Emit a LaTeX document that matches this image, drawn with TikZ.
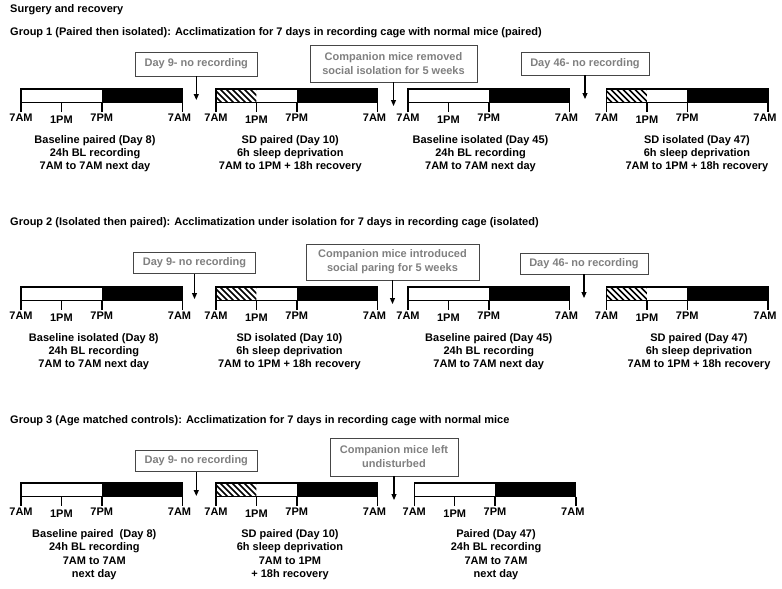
\documentclass[tikz,border=0pt]{standalone}
\usepackage{fontspec}
\setmainfont{Liberation Sans}
\usetikzlibrary{arrows.meta}
\definecolor{calltext}{RGB}{128,128,128}
\definecolor{callframe}{RGB}{70,70,70}
\tikzset{
  every node/.style={font=\fontsize{11}{13}\selectfont\bfseries, inner sep=0pt},
  titletext/.style={anchor=west},
  callout/.style={draw=callframe, line width=0.9pt, text=calltext, align=center,
    font=\fontsize{11}{14}\selectfont\bfseries},
  desc/.style={align=center, anchor=north},
  desclong/.style={align=center, anchor=north, font=\fontsize{11}{13.5}\selectfont\bfseries},
  barframe/.style={line width=1.2pt},
  axisline/.style={line width=1.8pt},
  tickline/.style={line width=1.5pt},
  pointer/.style={line width=1.1pt, -{Triangle[length=6pt,width=5pt]}},
  hatchline/.style={line width=1.6pt},
}
% #1 name, #2 x left, #3 y top, #4 1 = sleep deprivation hatch
\newcommand{\timeline}[4]{%
  \fill[white] (#2,#3) rectangle ({#2+161.5},{#3+13.5});
  \fill[black] ({#2+80.75},#3) rectangle ({#2+161.5},{#3+13.5});
  \ifnum#4=1
    \begin{scope}
      \clip (#2,#3) rectangle ({#2+40.4},{#3+13.5});
      \foreach \k in {-14,-8,...,40} \draw[hatchline] ({#2+\k},#3) -- ++(13.5,13.5);
    \end{scope}
  \fi
  \draw[barframe] (#2,#3) rectangle ({#2+161.5},{#3+13.5});
  \draw[axisline] (#2,{#3+13.5}) -- ({#2+161.5},{#3+13.5});
  \foreach \dx in {0,40.4,80.75,161.5} \draw[tickline] ({#2+\dx},{#3+13.5}) -- ({#2+\dx},{#3+22.5});
  \node (#1-a) at (#2,{#3+29}) {7AM};
  \node (#1-b) at ({#2+40.4},{#3+31}) {1PM};
  \node (#1-c) at ({#2+80.75},{#3+29}) {7PM};
  \node (#1-d) at ({#2+158.5},{#3+29}) {7AM};
}
\begin{document}
\begin{tikzpicture}[x=1pt,y=-1pt]
\useasboundingbox[fill=white] (0,0) rectangle (782,589);

% titles
\node[titletext] (surg) at (10,10) {Surgery and recovery};
\node[titletext] (t1) at (10,33) {Group 1 (Paired then isolated): Acclimatization for 7 days in recording cage with normal mice (paired)};
\node[titletext] (t2) at (10,223) {Group 2 (Isolated then paired): Acclimatization under isolation for 7 days in recording cage (isolated)};
\node[titletext] (t3) at (10,421) {Group 3 (Age matched controls): Acclimatization for 7 days in recording cage with normal mice};

% ---------- Group 1 ----------
\timeline{g1a}{21}{89}{0}
\timeline{g1b}{216}{89}{1}
\timeline{g1c}{408}{89}{0}
\timeline{g1d}{606.5}{89}{1}

\node[callout, minimum width=122pt, minimum height=24pt] (g1d9) at (196.3,64) {Day 9- no recording};
\node[callout, minimum width=167pt, minimum height=37pt] (g1co) at (393.5,63.5) {Companion mice removed\\social isolation for 5 weeks};
\node[callout, minimum width=128pt, minimum height=23pt] (g1d46) at (585,63.5) {Day 46- no recording};
\coordinate (g1d9t) at (196.3,100);
\coordinate (g1cot) at (393.5,106);
\coordinate (g1d46t) at (585,99);
\draw[pointer] (g1d9) -- (g1d9t);
\draw[pointer] (g1co) -- (g1cot);
\draw[pointer] (g1d46) -- (g1d46t);

\node[desc] (g1ta) at (95,135) {Baseline paired (Day 8)\\24h BL recording\\7AM to 7AM next day};
\node[desc] (g1tb) at (290.3,135) {SD paired (Day 10)\\6h sleep deprivation\\7AM to 1PM + 18h recovery};
\node[desc] (g1tc) at (480.5,135) {Baseline isolated (Day 45)\\24h BL recording\\7AM to 7AM next day};
\node[desc] (g1td) at (697,135) {SD isolated (Day 47)\\6h sleep deprivation\\7AM to 1PM + 18h recovery};

% ---------- Group 2 ----------
\timeline{g2a}{21}{287}{0}
\timeline{g2b}{216}{287}{1}
\timeline{g2c}{408}{287}{0}
\timeline{g2d}{606.5}{287}{1}

\node[callout, minimum width=122pt, minimum height=21pt] (g2d9) at (194.5,263) {Day 9- no recording};
\node[callout, minimum width=173pt, minimum height=36pt] (g2co) at (392.5,262) {Companion mice introduced\\social paring for 5 weeks};
\node[callout, minimum width=128pt, minimum height=21pt] (g2d46) at (584,263.5) {Day 46- no recording};
\coordinate (g2d9t) at (194.5,299);
\coordinate (g2cot) at (392.5,304);
\coordinate (g2d46t) at (584,298);
\draw[pointer] (g2d9) -- (g2d9t);
\draw[pointer] (g2co) -- (g2cot);
\draw[pointer] (g2d46) -- (g2d46t);

\node[desc] (g2ta) at (93.8,333) {Baseline isolated (Day 8)\\24h BL recording\\7AM to 7AM next day};
\node[desc] (g2tb) at (289.5,333) {SD isolated (Day 10)\\6h sleep deprivation\\7AM to 1PM + 18h recovery};
\node[desc] (g2tc) at (488.8,333) {Baseline paired (Day 45)\\24h BL recording\\7AM to 7AM next day};
\node[desc] (g2td) at (699,333) {SD paired (Day 47)\\6h sleep deprivation\\7AM to 1PM + 18h recovery};

% ---------- Group 3 ----------
\timeline{g3a}{21}{483}{0}
\timeline{g3b}{216}{483}{1}
\timeline{g3c}{414.3}{483}{0}

\node[callout, minimum width=122pt, minimum height=21pt] (g3d9) at (196.3,461) {Day 9- no recording};
\node[callout, minimum width=128pt, minimum height=38pt] (g3co) at (394,457) {Companion mice left\\undisturbed};
\coordinate (g3d9t) at (196.3,496);
\coordinate (g3cot) at (394,500);
\draw[pointer] (g3d9) -- (g3d9t);
\draw[pointer] (g3co) -- (g3cot);

\node[desclong] (g3ta) at (94.3,529) {Baseline paired\ \ (Day 8)\\24h BL recording\\7AM to 7AM\\next day};
\node[desclong] (g3tb) at (290,529) {SD paired (Day 10)\\6h sleep deprivation\\7AM to 1PM\\+ 18h recovery};
\node[desclong] (g3tc) at (496,529) {Paired (Day 47)\\24h BL recording\\7AM to 7AM\\next day};
\end{tikzpicture}
\end{document}
